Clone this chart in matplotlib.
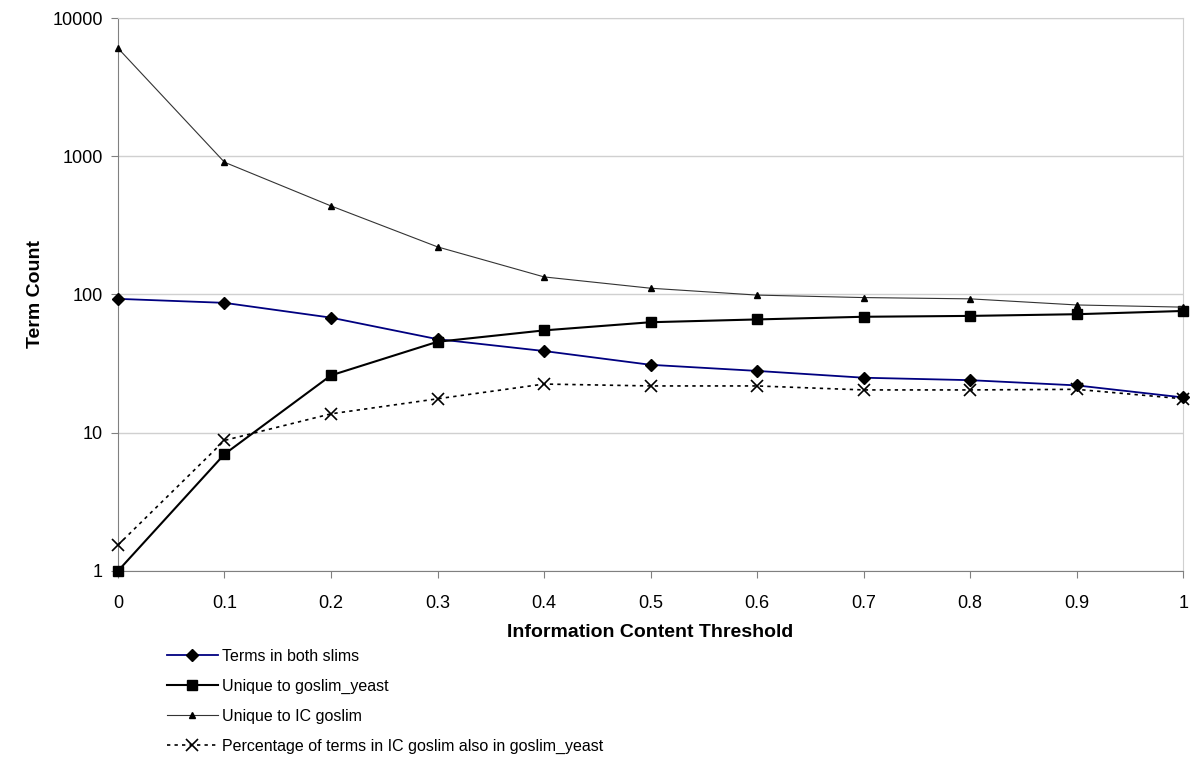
import matplotlib.pyplot as plt
from matplotlib.ticker import FixedLocator, FixedFormatter, NullLocator

plt.rcParams['font.family'] = ['Liberation Sans', 'DejaVu Sans']

thresholds = [0, 0.1, 0.2, 0.3, 0.4, 0.5, 0.6, 0.7, 0.8, 0.9, 1.0]
x_labels = ["0", "0.1", "0.2", "0.3", "0.4", "0.5", "0.6", "0.7", "0.8", "0.9", "1"]
both_slims = [93, 87, 68, 47.5, 39, 31, 28, 25, 24, 22, 18]
unique_yeast = [1, 7, 26, 45.5, 55, 63, 66, 69, 70, 72, 76]
unique_ic = [6050, 905, 437, 221, 134, 111, 99, 95, 93, 84, 81]
pct_overlap = [1.54, 8.8, 13.7, 17.6, 22.5, 21.8, 21.8, 20.4, 20.4, 20.6, 17.6]

fig = plt.figure(figsize=(12, 7.66), dpi=100)
ax = fig.add_axes([0.0983, 0.2546, 0.8877, 0.7219])

ax.plot(thresholds, both_slims, color='#000080', lw=1.3, marker='D', ms=6.5,
        mfc='black', mec='black', label='Terms in both slims', zorder=4, clip_on=False)
ax.plot(thresholds, unique_yeast, color='black', lw=1.5, marker='s', ms=7.5,
        label='Unique to goslim_yeast', zorder=4, clip_on=False)
ax.plot(thresholds, unique_ic, color='#333333', lw=0.8, marker='^', ms=5,
        mfc='black', mec='black', label='Unique to IC goslim', zorder=4, clip_on=False)
ax.plot(thresholds, pct_overlap, color='black', lw=1.2, ls=(0, (2, 2.5)), marker='x',
        ms=8, mew=1.2, label='Percentage of terms in IC goslim also in goslim_yeast',
        zorder=3, clip_on=False)

ax.set_yscale('log')
ax.set_ylim(1, 10000)
ax.set_xlim(0, 1)
ax.yaxis.set_major_locator(FixedLocator([1, 10, 100, 1000, 10000]))
ax.yaxis.set_major_formatter(FixedFormatter(["1", "10", "100", "1000", "10000"]))
ax.yaxis.set_minor_locator(NullLocator())
ax.set_xticks(thresholds)
ax.set_xticklabels(x_labels)

ax.grid(axis='y', color='#d0d0d0', lw=1)
ax.set_axisbelow(True)
for side in ['left', 'bottom']:
    ax.spines[side].set_color('#808080')
for side in ['right', 'top']:
    ax.spines[side].set_color('#d0d0d0')
ax.tick_params(length=5, color='#808080', labelsize=13)
ax.tick_params(axis='y', pad=6)
ax.tick_params(axis='x', pad=12)

ax.set_xlabel('Information Content Threshold', fontsize=14, fontweight='bold', labelpad=9)
ax.set_ylabel('Term Count', fontsize=14, fontweight='bold', labelpad=6)

fig.legend(loc='upper left', bbox_to_anchor=(0.139, 0.153), frameon=False,
           fontsize=11.5, handlelength=3.2, handletextpad=0.25, labelspacing=0.93,
           borderaxespad=0, borderpad=0)

fig.savefig("out.png", dpi=100)
